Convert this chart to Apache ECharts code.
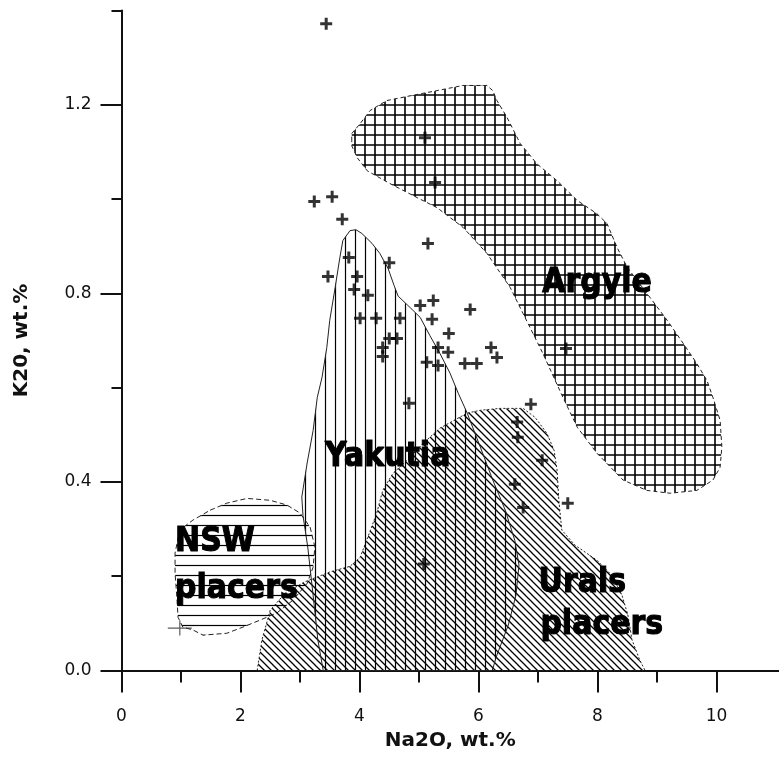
<!DOCTYPE html>
<html>
<head>
<meta charset="utf-8">
<script src="https://cdn.jsdelivr.net/npm/echarts@6/dist/echarts.min.js"></script>
<style>
  html, body { margin: 0; padding: 0; background: #fff; }
  #chart { width: 779px; height: 757px; }
</style>
</head>
<body>
<div id="chart"></div>
<script>
// Grain compositions, wt.%
const na2o = [3.44, 5.10, 5.27, 3.24, 3.54, 3.71, 5.15, 3.82, 4.50, 3.47,
              3.96, 3.91, 4.14, 4.01, 4.28, 4.68, 5.02, 5.24, 5.22, 5.86,
              5.50, 4.50, 4.63, 4.39, 4.39, 5.32, 5.49, 5.13, 5.32, 5.77,
              5.97, 6.21, 6.31, 7.47, 4.83, 6.88, 6.65, 6.66, 7.07, 6.61,
              6.75, 7.50, 5.08];
const k2o  = [1.372, 1.130, 1.035, 0.995, 1.005, 0.957, 0.906, 0.876, 0.865, 0.836,
              0.836, 0.808, 0.796, 0.747, 0.747, 0.747, 0.774, 0.785, 0.745, 0.766,
              0.715, 0.704, 0.704, 0.685, 0.666, 0.685, 0.675, 0.654, 0.647, 0.651,
              0.651, 0.685, 0.664, 0.683, 0.567, 0.565, 0.527, 0.495, 0.446, 0.395,
              0.346, 0.355, 0.226];
// Grain plotted with a thin cross
const thinNa2o = [0.98];
const thinK2o = [0.09];

// Field outlines, vertices as [Na2O, K2O]
const argyleField = [
  [3.87, 1.124], [3.87, 1.139], [4.01, 1.160], [4.18, 1.188], [4.46, 1.209], [4.85, 1.219],
  [5.30, 1.230], [5.74, 1.241], [6.14, 1.241], [6.24, 1.230], [6.31, 1.209], [6.48, 1.173],
  [6.70, 1.118], [6.98, 1.075], [7.32, 1.039], [7.66, 0.997], [7.99, 0.969], [8.16, 0.948],
  [8.33, 0.897], [8.50, 0.855], [8.83, 0.800], [9.17, 0.743], [9.44, 0.694], [9.67, 0.651],
  [9.84, 0.615], [9.94, 0.579], [10.06, 0.531], [10.09, 0.474], [10.06, 0.431], [9.94, 0.404],
  [9.67, 0.382], [9.22, 0.376], [8.83, 0.382], [8.43, 0.404], [7.99, 0.461], [7.66, 0.516],
  [7.42, 0.579], [7.08, 0.673], [6.75, 0.757], [6.53, 0.813], [6.14, 0.885], [5.74, 0.940],
  [5.30, 0.982], [4.97, 1.003], [4.51, 1.033], [4.13, 1.060], [3.96, 1.088], [3.87, 1.113]
];
const yakutiaField = [
  [3.84, 0.933], [3.94, 0.935], [4.04, 0.927], [4.21, 0.906], [4.34, 0.885], [4.48, 0.853],
  [4.58, 0.817], [4.65, 0.794], [4.80, 0.776], [5.02, 0.749], [5.18, 0.711], [5.35, 0.673],
  [5.52, 0.631], [5.66, 0.588], [5.81, 0.546], [6.03, 0.474], [6.24, 0.404], [6.45, 0.340],
  [6.61, 0.276], [6.68, 0.224], [6.63, 0.160], [6.50, 0.096], [6.31, 0.033], [6.23, 0.0],
  [3.39, 0.0], [3.30, 0.065], [3.22, 0.160], [3.13, 0.262], [3.05, 0.329], [3.03, 0.368],
  [3.12, 0.440], [3.22, 0.509], [3.29, 0.579], [3.37, 0.622], [3.45, 0.685], [3.50, 0.743],
  [3.59, 0.812], [3.67, 0.876], [3.72, 0.912]
];
const uralsField = [
  [2.28, 0.0], [2.36, 0.065], [2.50, 0.128], [2.75, 0.164], [3.08, 0.188], [3.50, 0.209],
  [3.84, 0.221], [4.01, 0.240], [4.14, 0.283], [4.29, 0.334], [4.39, 0.382], [4.56, 0.418],
  [4.80, 0.446], [5.07, 0.482], [5.35, 0.514], [5.81, 0.546], [6.03, 0.552], [6.36, 0.556],
  [6.75, 0.556], [6.95, 0.537], [7.15, 0.503], [7.27, 0.467], [7.32, 0.425], [7.35, 0.361],
  [7.40, 0.298], [7.62, 0.266], [7.99, 0.234], [8.24, 0.202], [8.41, 0.160], [8.51, 0.118],
  [8.58, 0.065], [8.71, 0.022], [8.80, 0.0]
];
const nswField = [
  [1.49, 0.340], [1.77, 0.355], [2.11, 0.365], [2.50, 0.361], [2.78, 0.351], [3.00, 0.334],
  [3.17, 0.304], [3.25, 0.262], [3.22, 0.219], [3.12, 0.185], [2.88, 0.149], [2.61, 0.122],
  [2.33, 0.107], [2.04, 0.092], [1.77, 0.079], [1.37, 0.075], [1.20, 0.086], [1.03, 0.092],
  [0.95, 0.113], [0.93, 0.156], [0.90, 0.207], [0.90, 0.249], [0.98, 0.298], [1.20, 0.319]
];

// Field names and where each line of text starts
const fieldLabels = ['Argyle', 'Yakutia', 'NSW', 'placers', 'Urals', 'placers'];
const fieldLabelNa2o = [7.07, 3.42, 0.90, 0.90, 7.01, 7.04];
const fieldLabelK2o = [0.822, 0.453, 0.271, 0.173, 0.184, 0.095];

// Axis ticks
const xTicks = [0, 2, 4, 6, 8, 10];
const xMinorTicks = [1, 3, 5, 7, 9];
const yTicks = [0, 0.4, 0.8, 1.2];
const yMinorTicks = [0.2, 0.6, 1.0, 1.4];

const INK = '#000';
const FONT = '"DejaVu Sans", Verdana, sans-serif';

// Hatch fills built on small repeating canvases
function hatch(size, draw) {
  const c = document.createElement('canvas');
  c.width = size; c.height = size;
  const g = c.getContext('2d');
  g.strokeStyle = '#000';
  g.lineCap = 'square';
  draw(g, size);
  return { image: c, repeat: 'repeat' };
}
const gridFill = hatch(10, (g, s) => {
  g.lineWidth = 1.6;
  g.beginPath();
  g.moveTo(5, 0); g.lineTo(5, s);
  g.moveTo(0, 5); g.lineTo(s, 5);
  g.stroke();
});
const verticalFill = hatch(10, (g, s) => {
  g.lineWidth = 1.2;
  g.beginPath(); g.moveTo(5.5, 0); g.lineTo(5.5, s); g.stroke();
});
const horizontalFill = hatch(10, (g, s) => {
  g.lineWidth = 1.2;
  g.beginPath(); g.moveTo(0, 5.5); g.lineTo(s, 5.5); g.stroke();
});
const diagonalFill = hatch(7, (g, s) => {
  g.lineWidth = 1.3;
  g.lineCap = 'butt';
  g.beginPath();
  g.moveTo(-1, -1); g.lineTo(s + 1, s + 1);
  g.moveTo(-1, s - 1); g.lineTo(1, s + 1);
  g.moveTo(s - 1, -1); g.lineTo(s + 1, 1);
  g.stroke();
});

function fieldSeries(name, verts, fill, stroke, lineDash, z) {
  return {
    type: 'custom',
    name: name,
    coordinateSystem: 'cartesian2d',
    xAxisIndex: 0, yAxisIndex: 0,
    silent: true,
    z: z,
    data: [verts[0]],
    renderItem: (params, api) => ({
      type: 'polygon',
      shape: { points: verts.map(v => api.coord(v)) },
      style: { fill: fill, stroke: stroke, lineWidth: 1, lineDash: lineDash }
    })
  };
}

const plusPath = 'path://M4.5,0H7.5V4.5H12V7.5H7.5V12H4.5V7.5H0V4.5H4.5Z';
const thinPlusPath = 'path://M11.4,0H12.6V6.9H24V8.1H12.6V15H11.4V8.1H0V6.9H11.4Z';

const chart = echarts.init(document.getElementById('chart'), null, { renderer: 'canvas' });

const axisLabelFont = { fontFamily: FONT, fontSize: 17, color: '#111' };
const axisNameFont = { fontFamily: FONT, fontSize: 20, fontWeight: 'bold', color: '#111' };

chart.setOption({
  animation: false,
  backgroundColor: '#fff',
  grid: { left: 121.5, right: 0, top: 10.5, bottom: 86.5, containLabel: false, outerBoundsMode: 'none' },
  xAxis: [
    {
      type: 'value', min: 0, max: 11.05, position: 'bottom',
      name: 'Na2O, wt.%', nameLocation: 'middle', nameGap: 60, nameTextStyle: axisNameFont,
      axisLine: { onZero: false, lineStyle: { color: '#111', width: 2 } },
      axisTick: { customValues: xTicks, length: 22, lineStyle: { color: '#111', width: 2 } },
      axisLabel: Object.assign({ customValues: xTicks, margin: 38 }, axisLabelFont),
      splitLine: { show: false }
    },
    {
      type: 'value', min: 0, max: 11.05, position: 'bottom',
      axisLine: { show: false, onZero: false },
      axisTick: { customValues: xMinorTicks, length: 12, lineStyle: { color: '#111', width: 2 } },
      axisLabel: { show: false },
      splitLine: { show: false }
    }
  ],
  yAxis: [
    {
      type: 'value', min: 0, max: 1.4, position: 'left',
      name: 'K20, wt.%', nameLocation: 'middle', nameGap: 90, nameTextStyle: axisNameFont,
      axisLine: { onZero: false, lineStyle: { color: '#111', width: 2 } },
      axisTick: { customValues: yTicks, length: 21, lineStyle: { color: '#111', width: 2 } },
      axisLabel: Object.assign({ customValues: yTicks, margin: 30, formatter: v => v.toFixed(1) }, axisLabelFont),
      splitLine: { show: false }
    },
    {
      type: 'value', min: 0, max: 1.4, position: 'left',
      axisLine: { show: false, onZero: false },
      axisTick: { customValues: yMinorTicks, length: 10, lineStyle: { color: '#111', width: 2 } },
      axisLabel: { show: false },
      splitLine: { show: false }
    }
  ],
  series: [
    fieldSeries('Urals placers', uralsField, diagonalFill, '#222', [2, 2], 1),
    fieldSeries('Yakutia', yakutiaField, verticalFill, '#222', null, 2),
    fieldSeries('NSW placers', nswField, horizontalFill, '#222', [5, 3], 2),
    fieldSeries('Argyle', argyleField, gridFill, '#222', [4, 3], 2),
    {
      type: 'scatter', name: 'grains',
      xAxisIndex: 0, yAxisIndex: 0, z: 5,
      data: na2o.map((x, i) => [x, k2o[i]]),
      symbol: plusPath, symbolSize: 12,
      itemStyle: { color: INK }
    },
    {
      type: 'scatter', name: 'grain (thin)',
      xAxisIndex: 0, yAxisIndex: 0, z: 5,
      data: thinNa2o.map((x, i) => [x, thinK2o[i]]),
      symbol: thinPlusPath, symbolSize: [24, 15], symbolKeepAspect: false,
      itemStyle: { color: '#333' }
    },
    {
      type: 'custom', name: 'field names',
      coordinateSystem: 'cartesian2d', xAxisIndex: 0, yAxisIndex: 0,
      silent: true, z: 6,
      data: fieldLabelNa2o.map((x, i) => [x, fieldLabelK2o[i]]),
      renderItem: (params, api) => {
        const p = api.coord([api.value(0), api.value(1)]);
        return {
          type: 'text', x: p[0], y: p[1], scaleY: 1.12,
          style: {
            text: fieldLabels[params.dataIndex],
            fontFamily: FONT, fontSize: 30, fontWeight: 'bold',
            fill: INK, stroke: INK, lineWidth: 1,
            align: 'left', verticalAlign: 'middle'
          }
        };
      }
    }
  ]
});
</script>
</body>
</html>
